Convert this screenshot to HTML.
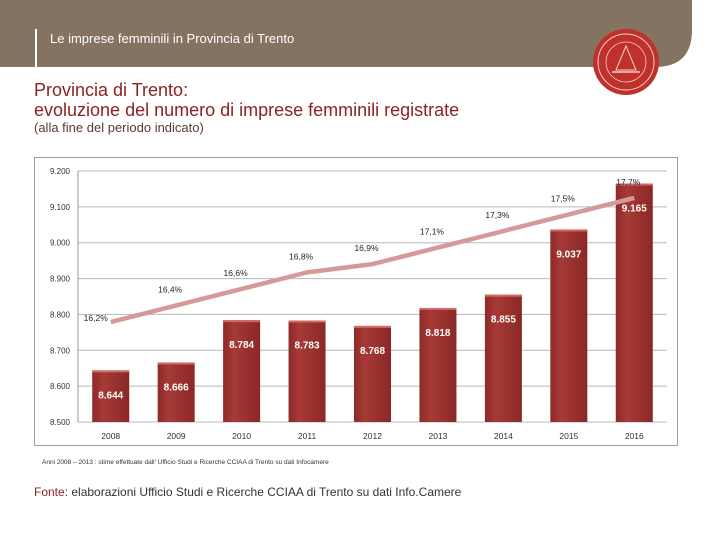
<!DOCTYPE html>
<html><head><meta charset="utf-8"><style>
body{margin:0;width:720px;height:540px;background:#fff;font-family:"Liberation Sans",sans-serif;position:relative;overflow:hidden}
.abs{position:absolute;white-space:nowrap}
</style></head><body>
<svg class="abs" style="left:0;top:0" width="720" height="540">
  <path d="M0 0 H692 V30 Q692 67 655 67 H0 Z" fill="#857362"/>
  <rect x="35" y="29" width="2" height="38" fill="#fff"/>
  <text x="50" y="43" font-size="13" fill="#fff">Le imprese femminili in Provincia di Trento</text>
  <g>
    <circle cx="626" cy="62" r="33" fill="#c0312b"/>
    <circle cx="626" cy="62" r="28" fill="none" stroke="#f3d0c8" stroke-width="1"/>
    <circle cx="626" cy="62" r="20" fill="none" stroke="#f3d0c8" stroke-width="0.8"/>
    <path d="M626 46 L616 70 H636 Z" fill="none" stroke="#f3d0c8" stroke-width="1"/>
    <path d="M612 72 H640" stroke="#f3d0c8" stroke-width="1.5"/>
  </g>
  <text x="34" y="96" font-size="18" fill="#8b2323">Provincia di Trento:</text>
  <text x="34" y="116" font-size="18" fill="#8b2323">evoluzione del numero di imprese femminili registrate</text>
  <text x="34" y="132" font-size="13" fill="#5a3a30">(alla fine del periodo indicato)</text>
  <rect x="34.5" y="157.5" width="643" height="288" fill="#fff" stroke="#a0a0a0"/>
  <g id="chart"></g>
  <text x="42" y="464" font-size="6.5" fill="#333">Anni 2008 – 2013 : stime effettuate dall' Ufficio Studi e Ricerche CCIAA di Trento su dati Infocamere</text>
  <text x="34" y="496" font-size="12" fill="#333"><tspan fill="#8b2323">Fonte</tspan>: elaborazioni Ufficio Studi e Ricerche CCIAA di Trento su dati Info.Camere</text>
</svg>
<script>
const categories=["2008","2009","2010","2011","2012","2013","2014","2015","2016"];
const firms=[8644,8666,8784,8783,8768,8818,8855,9037,9165];
const shares=[16.2,16.4,16.6,16.8,16.9,17.1,17.3,17.5,17.7];
const yTicks=[8500,8600,8700,8800,8900,9000,9100,9200];
const firmLabels=["8.644","8.666","8.784","8.783","8.768","8.818","8.855","9.037","9.165"];
const shareLabels=["16,2%","16,4%","16,6%","16,8%","16,9%","17,1%","17,3%","17,5%","17,7%"];
const tickLabels=["8.500","8.600","8.700","8.800","8.900","9.000","9.100","9.200"];
const NS="http://www.w3.org/2000/svg";
const g=document.getElementById('chart');
const L=78,R=667,T=171,B=422;
const y=v=>B-(v-8500)/700*(B-T);
const y2=v=>322-(v-16.2)*82.7;
const band=(R-L)/categories.length;
const xc=i=>L+band*(i+0.5);
function mk(t,a,txt){const e=document.createElementNS(NS,t);for(const k in a)e.setAttribute(k,a[k]);if(txt!=null)e.textContent=txt;g.appendChild(e);return e;}
const defs=mk('defs',{});
defs.innerHTML='<linearGradient id="bg" x1="0" x2="1"><stop offset="0" stop-color="#8e2a28"/><stop offset="0.3" stop-color="#a63a36"/><stop offset="1" stop-color="#8a2826"/></linearGradient>';
yTicks.forEach((v,i)=>{
  const l=mk('line',{x1:L,x2:R,y1:y(v),y2:y(v),stroke:'#b8b8b8','stroke-width':1});
  
  
  const t=mk('text',{x:L-8,y:y(v)+3,'font-size':8,fill:'#333','text-anchor':'end'},tickLabels[i]);
  
  
});
const ax=mk('line',{x1:L,x2:L,y1:T,y2:B,stroke:'#999'});


categories.forEach((c,i)=>{
  const bw=37,top=y(firms[i]);
  const r=mk('rect',{x:xc(i)-bw/2,y:top,width:bw,height:B-top,fill:'url(#bg)'});
  
  
  const hl=mk('rect',{x:xc(i)-bw/2,y:top,width:bw,height:2,fill:'#d06a64'});
  
  
  const t=mk('text',{x:xc(i),y:top+28,'font-size':10,'font-weight':'bold',fill:'#fff','text-anchor':'middle'},firmLabels[i]);
  
  
  const xl=mk('text',{x:xc(i),y:B+17,'font-size':8.5,fill:'#333','text-anchor':'middle'},c);
  
  
});
const pts=shares.map((v,i)=>xc(i)+','+y2(v)).join(' ');
const pl=mk('polyline',{points:pts,fill:'none',stroke:'#d49a98','stroke-width':4.5,'stroke-linejoin':'round'});


shares.forEach((v,i)=>{
  const dx=i===0?-15:-6, dy=i===0?-1:-13;
  const t=mk('text',{x:xc(i)+dx,y:y2(v)+dy,'font-size':8.5,fill:'#222','text-anchor':'middle'},shareLabels[i]);
  
  
});
</script>
</body></html>
